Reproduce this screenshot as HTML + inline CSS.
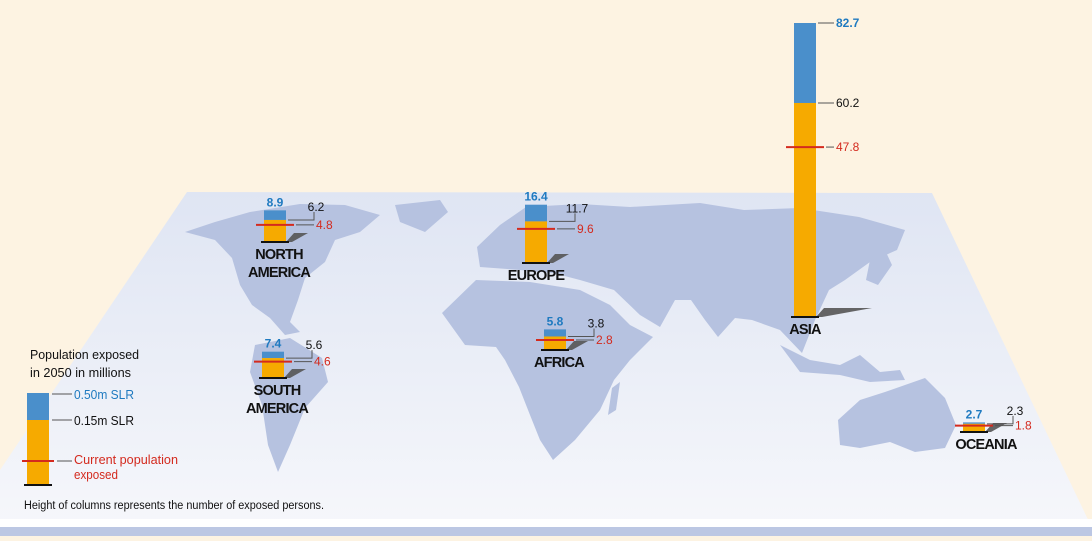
<!DOCTYPE html>
<html><head><meta charset="utf-8"><style>
html,body{margin:0;padding:0}
body{width:1092px;height:536px;overflow:hidden;background:#fdf3e2;font-family:"Liberation Sans",sans-serif}
svg text{font-family:"Liberation Sans",sans-serif}
</style></head><body>
<svg id="chart" width="1092" height="536" viewBox="0 0 1092 536" xmlns="http://www.w3.org/2000/svg">
<defs>
<linearGradient id="mapg" x1="0" y1="0" x2="0" y2="1"><stop offset="0" stop-color="#dfe5f3"/><stop offset="1" stop-color="#f6f7fb"/></linearGradient>
</defs>
<rect width="1092" height="536" fill="#fdf3e2"/>
<polygon points="187,192 932,193 1092,528 0,528 0,470" fill="url(#mapg)"/>
<g fill="#b6c2e0">
<path d="M185,232 L215,222 L250,212 L300,204 L345,205 L380,215 L360,232 L335,240 L325,262 L305,278 L298,300 L290,322 L300,332 L285,335 L270,318 L252,305 L240,285 L232,258 L215,240 Z"/>
<path d="M395,205 L440,200 L448,212 L425,232 L400,222 Z"/>
<path d="M255,345 L290,338 L322,358 L328,382 L305,408 L290,445 L278,472 L268,445 L262,405 L250,372 Z"/>
<path d="M480,267 L477,247 L500,225 L526,207 L580,204 L630,207 L700,203 L744,210 L800,208 L859,217 L905,230 L897,250 L870,262 L845,280 L829,290 L815,320 L802,353 L780,330 L752,320 L735,318 L718,337 L705,320 L691,300 L675,300 L660,327 L640,315 L614,290 L580,280 L553,273 L520,270 Z"/>
<path d="M442,313 L476,280 L530,282 L580,290 L610,305 L630,325 L653,337 L630,360 L614,380 L600,410 L575,440 L553,460 L540,440 L530,415 L519,387 L505,360 L496,347 L465,345 Z"/>
<path d="M612,388 L620,382 L616,410 L608,415 Z"/>
<path d="M780,345 L810,360 L840,365 L860,355 L880,372 L900,370 L905,380 L870,382 L840,375 L800,372 Z"/>
<path d="M838,420 L860,400 L885,392 L905,385 L925,378 L945,398 L956,425 L945,448 L915,452 L890,442 L860,448 L840,445 Z"/>
<path d="M870,260 L885,250 L892,265 L878,285 L866,280 Z"/>
</g>
<rect x="0" y="519" width="1092" height="8" fill="#ffffff"/>
<rect x="0" y="527" width="1092" height="9" fill="#bcc7e3"/>
<g id="cols"></g>
<g>
<text x="30" y="359" font-size="13" fill="#111" textLength="109" lengthAdjust="spacingAndGlyphs">Population exposed</text>
<text x="30" y="377" font-size="13" fill="#111" textLength="101" lengthAdjust="spacingAndGlyphs">in 2050 in millions</text>
<rect x="27" y="393" width="22" height="27" fill="#4a8fcb"/>
<rect x="27" y="420" width="22" height="64" fill="#f6aa00"/>
<line x1="24" y1="485" x2="52" y2="485" stroke="#111" stroke-width="2"/>
<line x1="22" y1="461" x2="54" y2="461" stroke="#d42a1e" stroke-width="2"/>
<line x1="52" y1="394" x2="72" y2="394" stroke="#555" stroke-width="1"/>
<line x1="52" y1="420" x2="72" y2="420" stroke="#555" stroke-width="1"/>
<line x1="57" y1="461" x2="72" y2="461" stroke="#555" stroke-width="1"/>
<text x="74" y="399" font-size="13" fill="#1f7ac0" textLength="60" lengthAdjust="spacingAndGlyphs">0.50m SLR</text>
<text x="74" y="425" font-size="13" fill="#111" textLength="60" lengthAdjust="spacingAndGlyphs">0.15m SLR</text>
<text x="74" y="464" font-size="13" fill="#d42a1e" textLength="104" lengthAdjust="spacingAndGlyphs">Current population</text>
<text x="74" y="479" font-size="13" fill="#d42a1e" textLength="44" lengthAdjust="spacingAndGlyphs">exposed</text>
<text x="24" y="509" font-size="11.5" fill="#111" textLength="300" lengthAdjust="spacingAndGlyphs">Height of columns represents the number of exposed persons.</text>
</g>
</svg>
<script>
const regions = ["NORTH|AMERICA","EUROPE","SOUTH|AMERICA","AFRICA","ASIA","OCEANIA"];
const slr050 = [8.9,16.4,7.4,5.8,82.7,2.7];
const slr015 = [6.2,11.7,5.6,3.8,60.2,2.3];
const current = [4.8,9.6,4.6,2.8,47.8,1.8];
// layout anchors (column left x, baseline y)
const colX = [264,525,262,544,794,963];
const baseY = [242,263,378,350,317,432];
const PX = 3.555;
const ns="http://www.w3.org/2000/svg";
const g=document.getElementById('cols');
function y(v,i){return baseY[i]-v*PX;}
function mk(tag,attrs){const e=document.createElementNS(ns,tag);for(const k in attrs)e.setAttribute(k,attrs[k]);g.appendChild(e);return e;}
for(let i=0;i<regions.length;i++){
  const x=colX[i],b=baseY[i],w=22;
  const L=i==4?56:22;
  const sh=mk('polygon',{points:`${x+w},${b} ${x+w+8},${b-9} ${x+w+L},${b-9} ${x+w+6},${b}`,fill:'#555',opacity:'0.9'});
  
  
  const r1=mk('rect',{x:x,y:y(slr050[i],i),width:w,height:(slr050[i]-slr015[i])*PX,fill:'#4a8fcb'});
  
  
  const r2=mk('rect',{x:x,y:y(slr015[i],i),width:w,height:slr015[i]*PX,fill:'#f6aa00'});
  
  
  const bl=mk('line',{x1:x-3,y1:b,x2:x+w+3,y2:b,stroke:'#111','stroke-width':2});
  
  
  const cy=y(current[i],i);
  const cl=mk('line',{x1:x-8,y1:cy,x2:x+w+8,y2:cy,stroke:'#d42a1e','stroke-width':2});
  
  
  const top=y(slr050[i],i), mid=y(slr015[i],i);
  if(i==4){
    mk('line',{x1:x+w+2,y1:top,x2:x+w+18,y2:top,stroke:'#555'});
    mk('line',{x1:x+w+2,y1:mid,x2:x+w+18,y2:mid,stroke:'#555'});
    mk('line',{x1:x+w+10,y1:cy,x2:x+w+18,y2:cy,stroke:'#555'});
    const t1=mk('text',{x:x+w+20,y:top+4,'font-size':12,'font-weight':'bold',fill:'#1f7ac0'});t1.textContent=slr050[i];
    
    
    const t2=mk('text',{x:x+w+20,y:mid+4,'font-size':12,fill:'#111'});t2.textContent=slr015[i];
    
    
    const t3=mk('text',{x:x+w+20,y:cy+4,'font-size':12,fill:'#d42a1e'});t3.textContent=current[i];
    
    
  } else {
    const t1=mk('text',{x:x+w/2,y:top-4,'font-size':12,'font-weight':'bold',fill:'#1f7ac0','text-anchor':'middle'});t1.textContent=slr050[i];
    
    
    mk('polyline',{points:`${x+w+2},${mid} ${x+w+28},${mid} ${x+w+28},${mid-8}`,fill:'none',stroke:'#555'});
    const t2=mk('text',{x:x+w+30,y:mid-9,'font-size':12,fill:'#111','text-anchor':'middle'});t2.textContent=slr015[i];
    
    
    mk('line',{x1:x+w+10,y1:cy,x2:x+w+28,y2:cy,stroke:'#555'});
    const t3=mk('text',{x:x+w+30,y:cy+4,'font-size':12,fill:'#d42a1e'});t3.textContent=current[i];
    
    
  }
  const lines=regions[i].split('|');
  lines.forEach((s,k)=>{
    const t=mk('text',{x:x+w/2+(lines.length>1?4:(i==5?12:(i==3?4:0))),y:b+17+k*18,'font-size':14.5,'font-weight':'bold',fill:'#111','text-anchor':'middle','letter-spacing':'-0.8'});
    t.textContent=s;
    
    
  });
}
</script>
</body></html>
